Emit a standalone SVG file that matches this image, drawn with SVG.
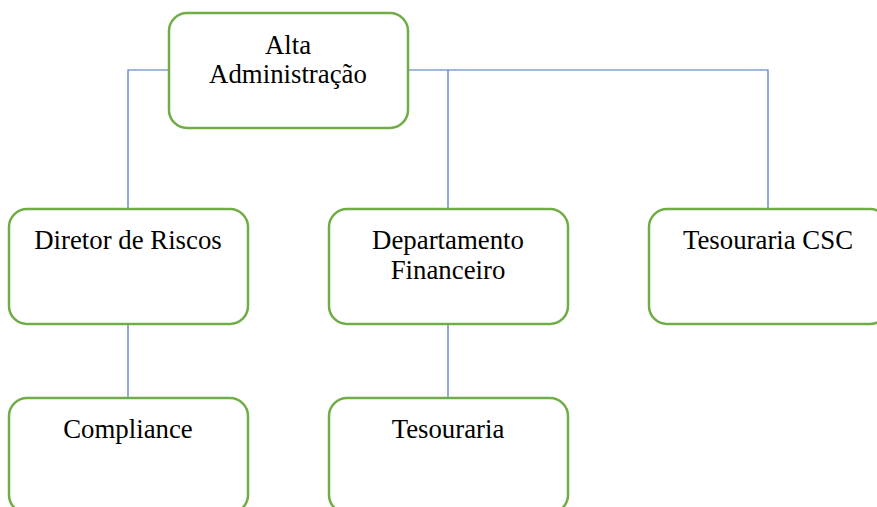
<svg xmlns="http://www.w3.org/2000/svg" width="877" height="507" viewBox="0 0 877 507">
<style>
.box{fill:#fff;stroke:#70AD47;stroke-width:2.5}
.lbl{font-family:"Liberation Serif","Times New Roman",serif;font-size:26.8px;fill:#000;text-anchor:middle}
.conn{fill:none;stroke:#4472C4;stroke-width:1.2}
</style>
<rect width="877" height="507" fill="#fff"/>
<g id="connectors">
<polyline class="conn" points="169,70 128,70 128,209"/>
<polyline class="conn" points="408,70 768,70 768,209"/>
<line class="conn" x1="448" y1="70" x2="448" y2="209"/>
<line class="conn" x1="128" y1="324" x2="128" y2="398"/>
<line class="conn" x1="448" y1="324" x2="448" y2="398"/>
</g>
<g id="alta">
<rect class="box" x="169" y="13" width="239" height="115" rx="18"/>
<text class="lbl" x="288" y="54">Alta</text>
<text class="lbl" x="288" y="83">Administração</text>
</g>
<g id="diretor">
<rect class="box" x="9" y="209" width="239" height="115" rx="18"/>
<text class="lbl" x="128" y="249">Diretor de Riscos</text>
</g>
<g id="departamento">
<rect class="box" x="329" y="209" width="239" height="115" rx="18"/>
<text class="lbl" x="448" y="249">Departamento</text>
<text class="lbl" x="448" y="279">Financeiro</text>
</g>
<g id="tesouraria-csc">
<rect class="box" x="649" y="209" width="239" height="115" rx="18"/>
<text class="lbl" x="768" y="249">Tesouraria CSC</text>
</g>
<g id="compliance">
<rect class="box" x="9" y="398" width="239" height="115" rx="18"/>
<text class="lbl" x="128" y="438">Compliance</text>
</g>
<g id="tesouraria">
<rect class="box" x="329" y="398" width="239" height="115" rx="18"/>
<text class="lbl" x="448" y="438">Tesouraria</text>
</g>
</svg>
